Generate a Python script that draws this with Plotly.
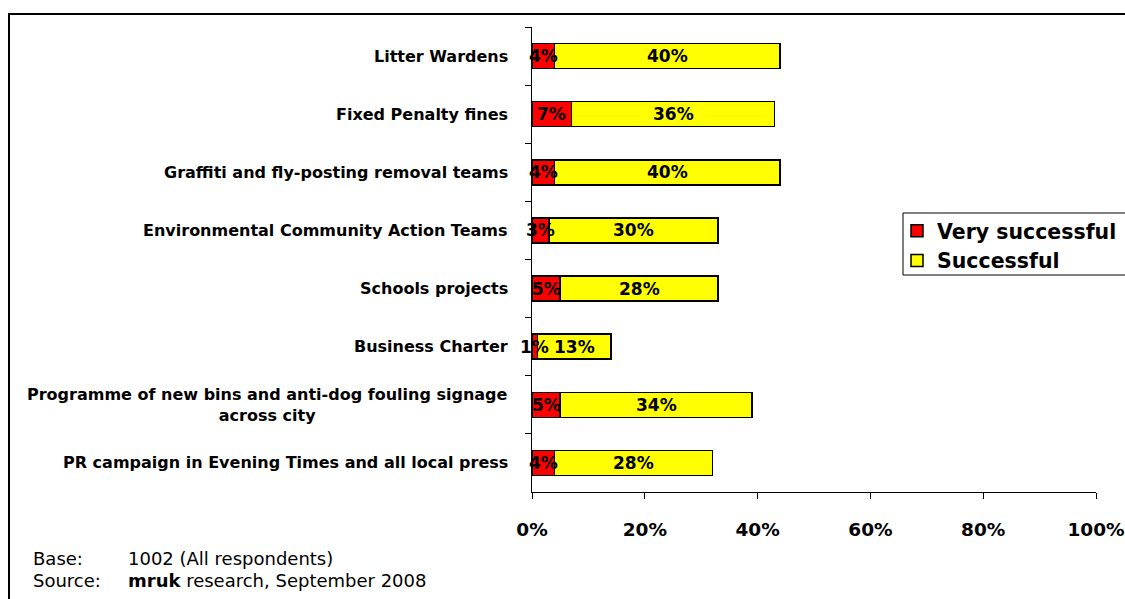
import plotly.graph_objects as go

# Survey results: share of respondents rating each initiative
categories = [
    "Litter Wardens",
    "Fixed Penalty fines",
    "Graffiti and fly-posting removal teams",
    "Environmental Community Action Teams",
    "Schools projects",
    "Business Charter",
    "Programme of new bins and anti-dog fouling signage<br>across city",
    "PR campaign in Evening Times and all local press",
]
very_successful = [4, 7, 4, 3, 5, 1, 5, 4]
successful = [40, 36, 40, 30, 28, 13, 34, 28]
x_ticks = [0, 20, 40, 60, 80, 100]
x_tick_labels = [f"{t}%" for t in x_ticks]

FONT = "DejaVu Sans, Liberation Sans, Arial, sans-serif"
W, H = 1125, 599
L, R, T, B = 532, 29, 27, 107
PW, PH = W - L - R, H - T - B


def px_x(p):
    """Pixel column -> paper x."""
    return (p - L) / PW


def px_y(p):
    """Pixel row -> paper y."""
    return (H - B - p) / PH


fig = go.Figure()

series = [
    ("Very successful", very_successful, "#FF0000"),
    ("Successful", successful, "#FFFF00"),
]
for i, (name, vals, color) in enumerate(series):
    fig.add_trace(go.Bar(
        y=categories,
        x=vals,
        orientation="h",
        name=name,
        legendgroup=f"g{i}",
        marker=dict(color=color, line=dict(color="black", width=1.5)),
        hoverinfo="skip",
    ))

# Value labels drawn above every bar, centred in each stacked segment
for cat, vs, s in zip(categories, very_successful, successful):
    for cx, val in ((vs / 2, vs), (vs + s / 2, s)):
        fig.add_annotation(
            x=cx, y=cat, xref="x", yref="y",
            xanchor="center", yanchor="middle",
            text=f"{val}%", showarrow=False,
            font=dict(family=FONT, size=17, color="black", weight="bold"),
        )

# Category labels, centred line by line and right-aligned to the axis
for cat in categories:
    fig.add_annotation(
        x=0, xref="paper", xshift=-22, xanchor="right",
        y=cat, yref="y", yanchor="middle",
        text=cat, showarrow=False, align="center",
        font=dict(family=FONT, size=16, color="black", weight="bold"),
    )

# Footnotes
notes = [
    (558, "Base:", "1002 (All respondents)"),
    (580, "Source:", "<b>mruk</b> research, September 2008"),
]
for row, lab, txt in notes:
    fig.add_annotation(x=px_x(31), y=px_y(row), xref="paper", yref="paper",
                       xanchor="left", yanchor="middle", text=lab, showarrow=False,
                       font=dict(family=FONT, size=18, color="black"))
    fig.add_annotation(x=px_x(126), y=px_y(row), xref="paper", yref="paper",
                       xanchor="left", yanchor="middle", text=txt, showarrow=False,
                       font=dict(family=FONT, size=18, color="black"))

# Outer frame and legend box
fig.add_shape(type="rect", xref="paper", yref="paper",
              x0=px_x(9), x1=px_x(1140), y0=px_y(620), y1=px_y(14),
              line=dict(color="black", width=2), layer="below")
fig.add_shape(type="rect", xref="paper", yref="paper",
              x0=px_x(903), x1=px_x(1140), y0=px_y(275), y1=px_y(213),
              line=dict(color="black", width=1), layer="above")

fig.update_layout(
    width=W, height=H,
    margin=dict(l=L, r=R, t=T, b=B, autoexpand=False),
    paper_bgcolor="white",
    plot_bgcolor="white",
    barmode="stack",
    bargap=0.57,
    showlegend=True,
    legend=dict(
        x=px_x(897), y=px_y(211), xanchor="left", yanchor="top",
        bgcolor="rgba(0,0,0,0)", borderwidth=0,
        traceorder="normal", tracegroupgap=2, itemwidth=30,
        font=dict(family=FONT, size=20.5, color="black", weight="bold"),
    ),
    font=dict(family=FONT, color="black"),
)

fig.update_xaxes(
    range=[0, 100],
    tickvals=x_ticks, ticktext=x_tick_labels,
    ticks="outside", ticklen=6, tickcolor="black", tickwidth=1,
    showline=True, linecolor="black", linewidth=1,
    showgrid=False, zeroline=False,
    tickfont=dict(family=FONT, size=18.5, color="black", weight="bold"),
    ticklabelstandoff=15,
)
fig.update_yaxes(
    type="category",
    categoryorder="array", categoryarray=categories,
    autorange="reversed",
    tickson="boundaries",
    ticks="outside", ticklen=6, tickcolor="black", tickwidth=1,
    showline=True, linecolor="black", linewidth=1,
    showgrid=False, showticklabels=False,
)

fig.write_html("out.html")
